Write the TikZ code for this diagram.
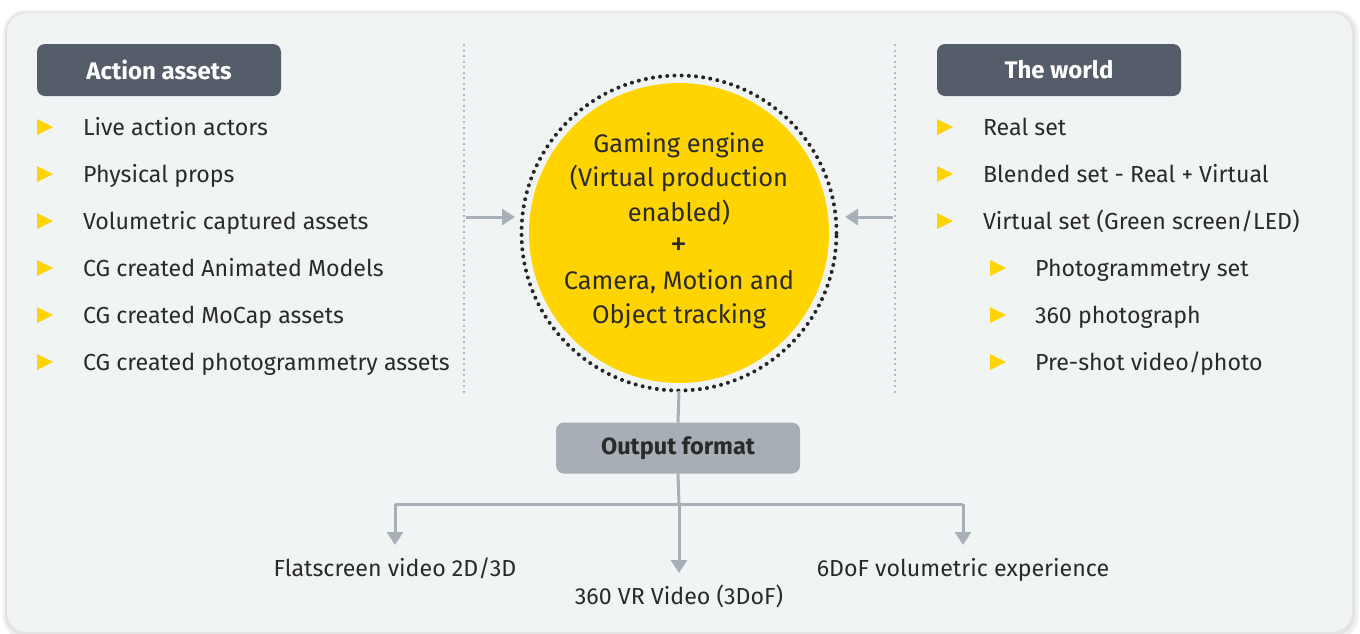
\documentclass[tikz,border=0pt]{standalone}
\usepackage{fontspec}
\setmainfont{Fira Sans}
\usetikzlibrary{arrows.meta}
\definecolor{panel}{HTML}{F1F4F5}
\definecolor{darkbox}{HTML}{545D69}
\definecolor{greybox}{HTML}{A7AEB5}
\definecolor{eyyellow}{HTML}{FFD400}
\definecolor{linegrey}{HTML}{A8B0B7}
\definecolor{dotgrey}{HTML}{B4BAC0}
\definecolor{txt}{HTML}{2A2A2A}
\tikzset{
  every node/.style={inner sep=0pt, outer sep=0pt},
  headbox/.style={fill=darkbox, rounded corners=8pt, minimum width=244pt, minimum height=52pt, text=white, font=\fontsize{24}{28}\selectfont\bfseries},
  outbox/.style={fill=greybox, rounded corners=8pt, minimum width=244pt, minimum height=51pt, text=txt, font=\fontsize{23.5}{28}\selectfont\bfseries},
  item/.style={anchor=base west, text=txt, font=\fontsize{23.2}{27}\selectfont},
  bul/.style={fill=eyyellow, draw=none},
  divider/.style={dotgrey, line width=2pt, dash pattern=on 2pt off 3.5pt},
  conn/.style={linegrey, line width=3pt, -{Triangle[length=13pt,width=16pt]}},
  plain/.style={linegrey, line width=3pt},
  outlabel/.style={anchor=base, text=txt, font=\fontsize{23.2}{27}\selectfont},
}
\newcommand{\bullettri}[2]{\fill[bul] (#1,#2-8) -- (#1+16,#2) -- (#1,#2+8) -- cycle;}
\begin{document}
\begin{tikzpicture}[x=1pt,y=-1pt]
\useasboundingbox (0,0) rectangle (1360,633);
\fill[white] (0,0) rectangle (1360,633);
% panel with soft shadow
\fill[black!6, rounded corners=23pt] (3,10) rectangle (1358,640);
\fill[black!11, rounded corners=21pt] (5,12) rectangle (1355,636);
\fill[panel, rounded corners=20pt] (7,13) rectangle (1352,632);

% dividers
\draw[divider] (464,44) -- (464,393);
\draw[divider] (895,44) -- (895,393);

% headers
\node[headbox] (aa) at (159,70) {Action assets};
\node[headbox] (tw) at (1059,70) {The world};

% left items
\foreach \y/\t [count=\i] in {127/{Live action actors},174/{Physical props},221/{Volumetric captured assets},268/{CG created Animated Models},315/{CG created MoCap assets},362/{CG created photogrammetry assets}}{
  \bullettri{37}{\y}
  \node[item] (l\i) at (83,\y+8) {\t};
}
% right items
\foreach \y/\t [count=\i] in {127/{Real set},174/{Blended set - Real + Virtual},221/{Virtual set (Green screen/LED)}}{
  \bullettri{937}{\y}
  \node[item] (r\i) at (983,\y+8) {\t};
}
\foreach \y/\t [count=\i] in {268/{Photogrammetry set},315/{360 photograph},362/{Pre-shot video/photo}}{
  \bullettri{990}{\y}
  \node[item] (s\i) at (1035,\y+8) {\t};
}

% centre circle
\node[circle, fill=eyyellow, minimum size=300pt] (eng) at (679,233) {};
\draw[black!85, line width=4pt, line cap=round, dash pattern=on 0pt off 7.2pt] (679,233) circle[radius=157.5pt];
\node[align=center, text=txt, font=\fontsize{25.4}{34.3}\selectfont] (engtxt) at (679,231) {Gaming engine\\(Virtual production\\enabled)\\{\fontsize{34}{34.3}\selectfont +}\\Camera, Motion and\\Object tracking};
\coordinate (ringL) at (515,217);
\coordinate (ringR) at (845,217);
\coordinate (ringB) at (679,391);

% side arrows
\coordinate (dl) at (466,217);
\coordinate (dr) at (893,217);
\draw[conn] (dl) -- (ringL);
\draw[conn] (dr) -- (ringR);

% output
\node[outbox] (out) at (678,448) {Output format};
\draw[plain] (ringB) -- (out.north);
\coordinate (hub) at (679,504);
\coordinate (hl) at (395,504);
\coordinate (hr) at (963,504);
\coordinate (al) at (395,545);
\coordinate (ar) at (963,545);
\coordinate (am) at (679,573);
\node[outlabel] (o1) at (395,576) {Flatscreen video 2D/3D};
\node[outlabel] (o2) at (679,604) {360 VR Video (3DoF)};
\node[outlabel] (o3) at (963,576) {6DoF volumetric experience};
\draw[plain] (out.south) -- (hub);
\draw[plain] (hl) -- (hr);
\draw[conn] (hl) -- (al);
\draw[conn] (hr) -- (ar);
\draw[conn] (hub) -- (am);
\end{tikzpicture}
\end{document}
